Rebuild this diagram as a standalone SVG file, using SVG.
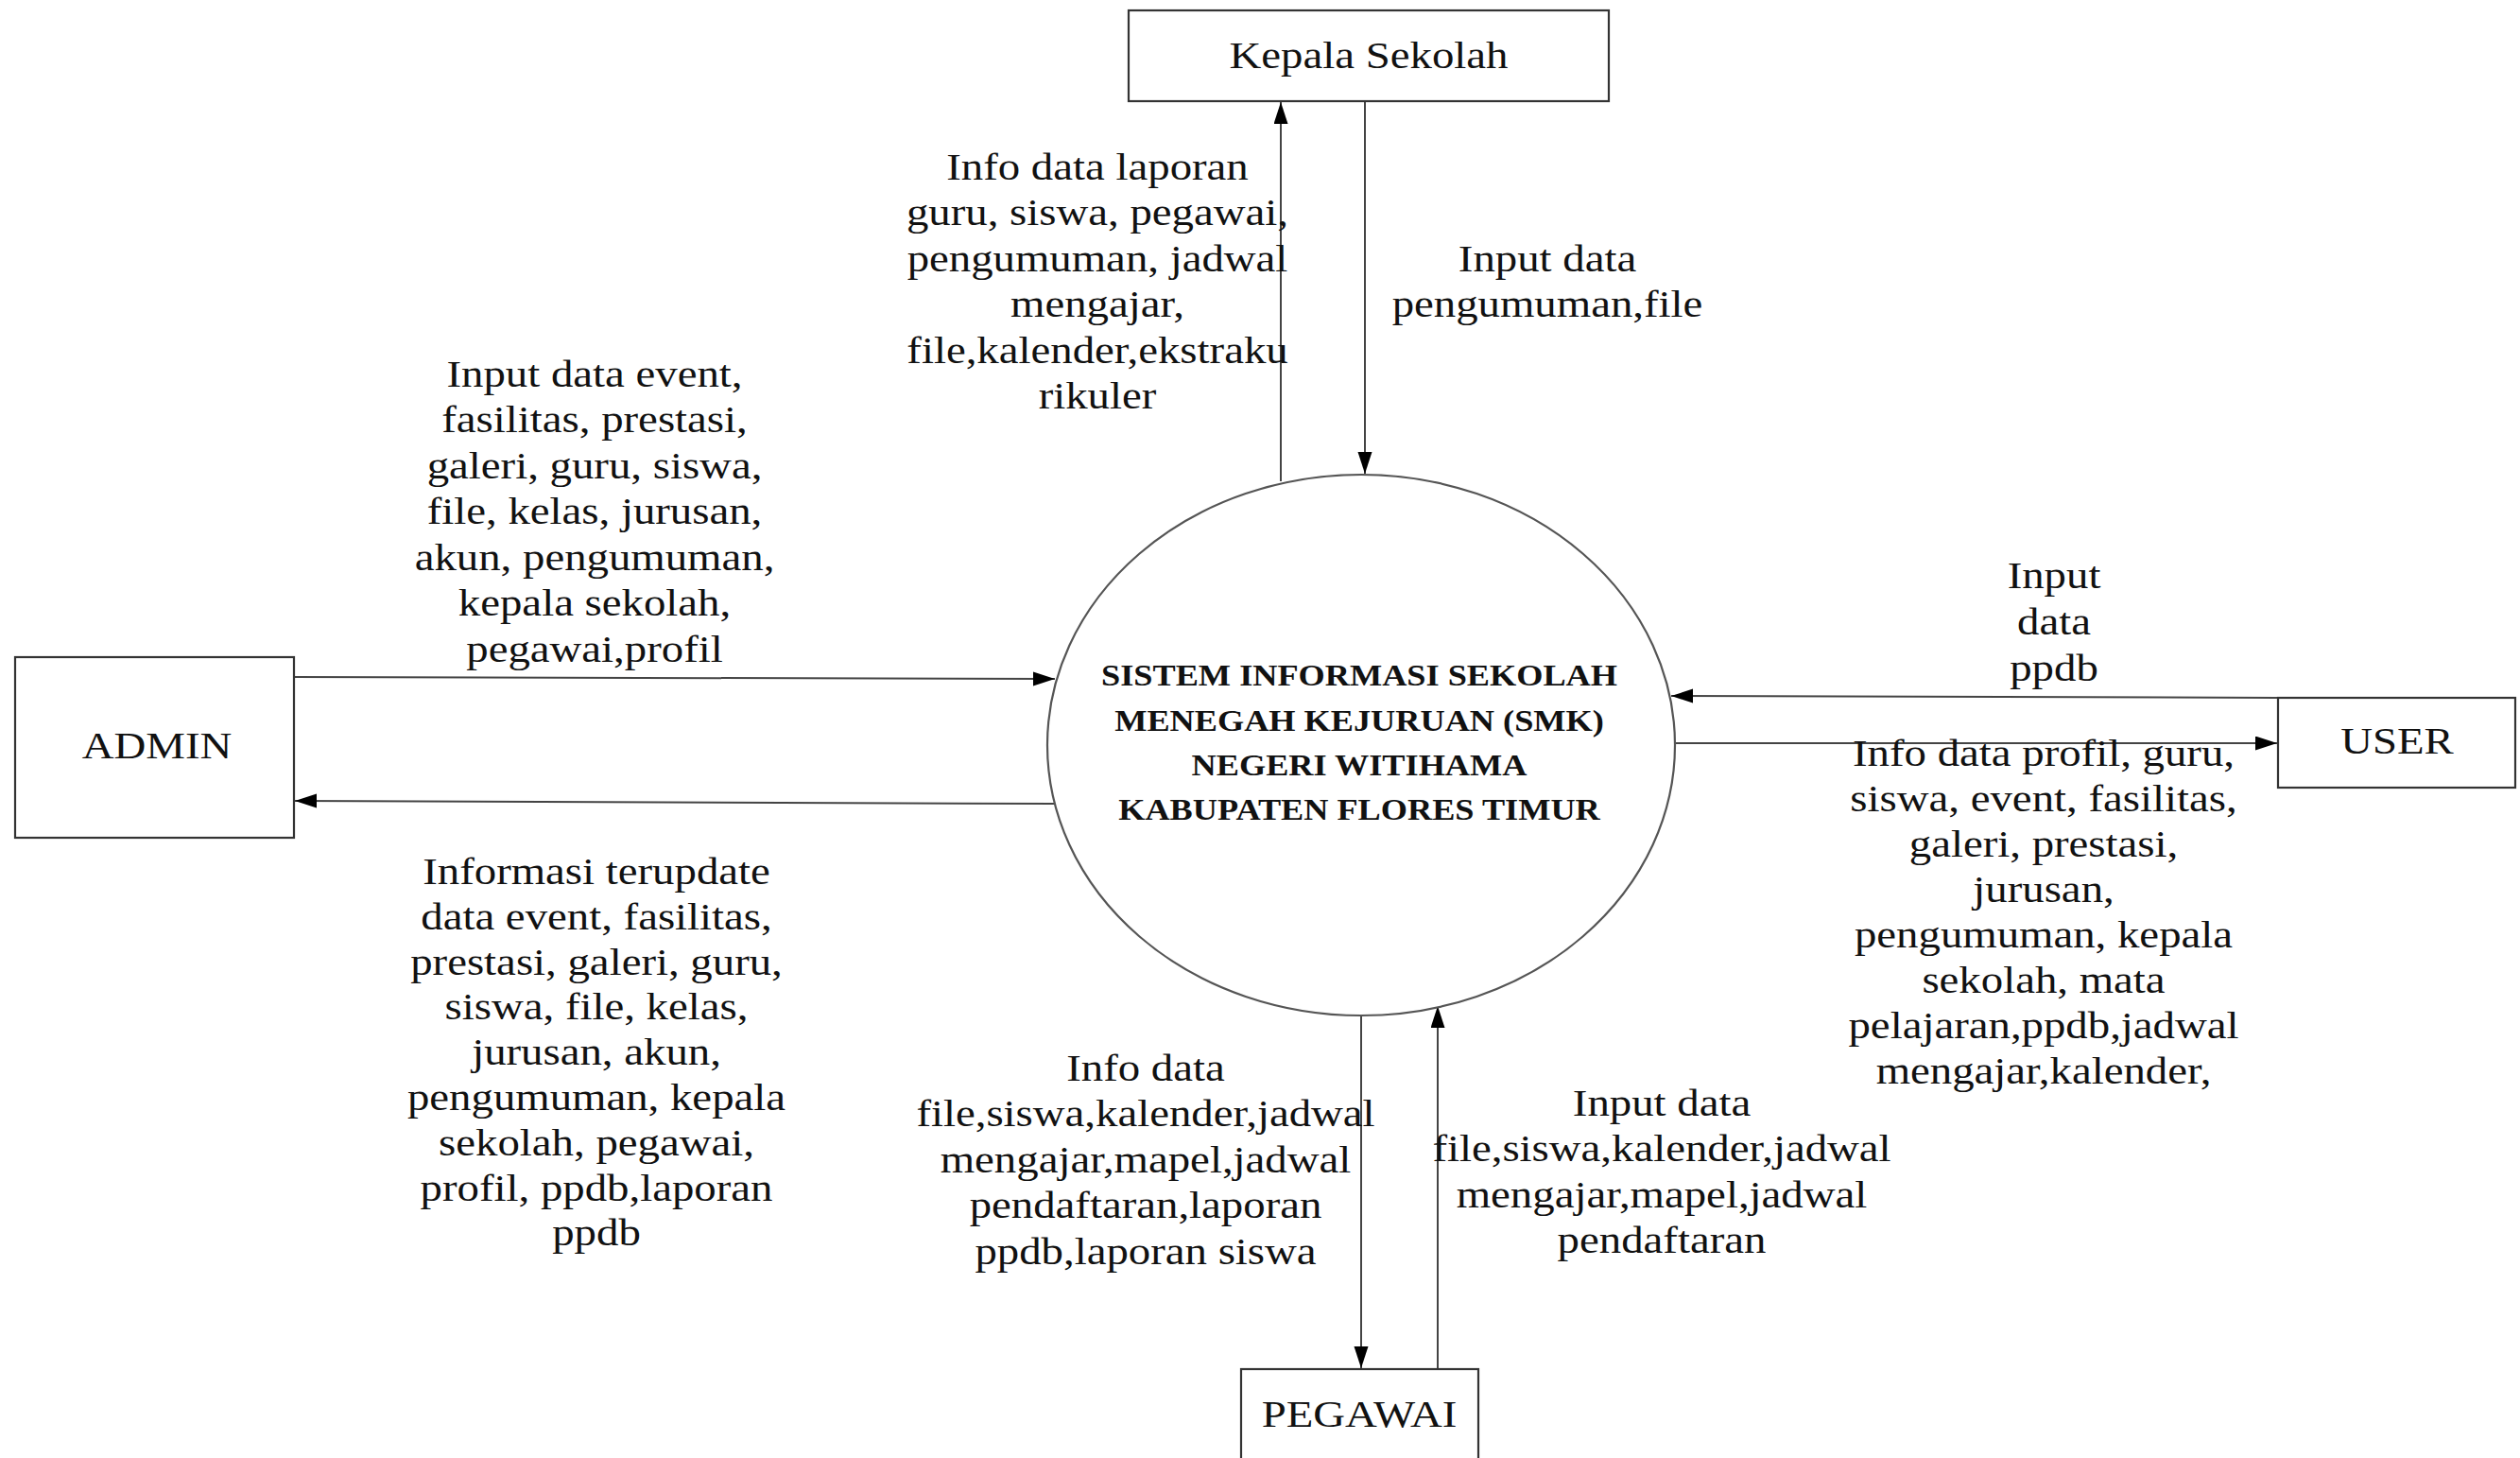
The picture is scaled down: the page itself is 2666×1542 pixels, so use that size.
<svg xmlns="http://www.w3.org/2000/svg" width="2666" height="1542" viewBox="0 0 2666 1542">
<style>
.box{fill:#fff;stroke:#333;stroke-width:2.2}
.proc{fill:#fff;stroke:#555;stroke-width:2.2}
.ln{stroke:#444;stroke-width:2;fill:none}
.t{font-family:"Liberation Serif","Times New Roman",serif;font-size:40px;fill:#111;text-anchor:middle}
.b{font-family:"Liberation Serif","Times New Roman",serif;font-size:31px;font-weight:bold;fill:#111;text-anchor:middle}
</style>
<defs>
<marker id="ah" markerUnits="userSpaceOnUse" markerWidth="24" markerHeight="16" refX="23" refY="7.5" orient="auto">
<path d="M0,0 L23,7.5 L0,15 z" fill="#000"/>
</marker>
</defs>
<rect width="2666" height="1542" fill="#fff"/>

<g id="connectors">
<line class="ln" x1="311" y1="716" x2="1116" y2="718" marker-end="url(#ah)"/>
<line class="ln" x1="1115" y1="850" x2="312" y2="847" marker-end="url(#ah)"/>
<line class="ln" x1="2410" y1="738" x2="1768" y2="736" marker-end="url(#ah)"/>
<line class="ln" x1="1772" y1="786" x2="2409" y2="786" marker-end="url(#ah)"/>
<line class="ln" x1="1355" y1="509" x2="1355" y2="108" marker-end="url(#ah)"/>
<line class="ln" x1="1444" y1="108" x2="1444" y2="501" marker-end="url(#ah)"/>
<line class="ln" x1="1440" y1="1074" x2="1440" y2="1447" marker-end="url(#ah)"/>
<line class="ln" x1="1521" y1="1448" x2="1521" y2="1064" marker-end="url(#ah)"/>
</g>

<g id="labels">
<g transform="translate(629,0) scale(1.17,1)">
<text class="t" x="0" y="409">Input data event,</text>
<text class="t" x="0" y="457.5">fasilitas, prestasi,</text>
<text class="t" x="0" y="506">galeri, guru, siswa,</text>
<text class="t" x="0" y="554.5">file, kelas, jurusan,</text>
<text class="t" x="0" y="603">akun, pengumuman,</text>
<text class="t" x="0" y="651.5">kepala sekolah,</text>
<text class="t" x="0" y="700">pegawai,profil</text>
</g>
<g transform="translate(631,0) scale(1.17,1)">
<text class="t" x="0" y="935">Informasi terupdate</text>
<text class="t" x="0" y="983">data event, fasilitas,</text>
<text class="t" x="0" y="1031">prestasi, galeri, guru,</text>
<text class="t" x="0" y="1078">siswa, file, kelas,</text>
<text class="t" x="0" y="1126">jurusan, akun,</text>
<text class="t" x="0" y="1174">pengumuman, kepala</text>
<text class="t" x="0" y="1222">sekolah, pegawai,</text>
<text class="t" x="0" y="1270">profil, ppdb,laporan</text>
<text class="t" x="0" y="1317">ppdb</text>
</g>
<g transform="translate(1161,0) scale(1.17,1)">
<text class="t" x="0" y="190">Info data laporan</text>
<text class="t" x="0" y="238.5">guru, siswa, pegawai,</text>
<text class="t" x="0" y="287">pengumuman, jadwal</text>
<text class="t" x="0" y="335">mengajar,</text>
<text class="t" x="0" y="384">file,kalender,ekstraku</text>
<text class="t" x="0" y="432">rikuler</text>
</g>
<g transform="translate(1637,0) scale(1.17,1)">
<text class="t" x="0" y="287">Input data</text>
<text class="t" x="0" y="335">pengumuman,file</text>
</g>
<g transform="translate(2173,0) scale(1.17,1)">
<text class="t" x="0" y="622">Input</text>
<text class="t" x="0" y="671">data</text>
<text class="t" x="0" y="720">ppdb</text>
</g>
<g transform="translate(2162,0) scale(1.17,1)">
<text class="t" x="0" y="810">Info data profil, guru,</text>
<text class="t" x="0" y="858">siswa, event, fasilitas,</text>
<text class="t" x="0" y="906">galeri, prestasi,</text>
<text class="t" x="0" y="954">jurusan,</text>
<text class="t" x="0" y="1002">pengumuman, kepala</text>
<text class="t" x="0" y="1050">sekolah, mata</text>
<text class="t" x="0" y="1098">pelajaran,ppdb,jadwal</text>
<text class="t" x="0" y="1146">mengajar,kalender,</text>
</g>
<g transform="translate(1212,0) scale(1.17,1)">
<text class="t" x="0" y="1143">Info data</text>
<text class="t" x="0" y="1191.5">file,siswa,kalender,jadwal</text>
<text class="t" x="0" y="1240">mengajar,mapel,jadwal</text>
<text class="t" x="0" y="1288.5">pendaftaran,laporan</text>
<text class="t" x="0" y="1337">ppdb,laporan siswa</text>
</g>
<g transform="translate(1758,0) scale(1.17,1)">
<text class="t" x="0" y="1180">Input data</text>
<text class="t" x="0" y="1228">file,siswa,kalender,jadwal</text>
<text class="t" x="0" y="1277">mengajar,mapel,jadwal</text>
<text class="t" x="0" y="1325">pendaftaran</text>
</g>
</g>

<g id="kepala-sekolah">
<rect class="box" x="1194" y="11" width="508" height="96"/>
<g transform="translate(1448,0) scale(1.17,1)"><text class="t" x="0" y="72">Kepala Sekolah</text></g>
</g>

<g id="admin">
<rect class="box" x="16" y="695" width="295" height="191"/>
<g transform="translate(166,0) scale(1.17,1)"><text class="t" x="0" y="802">ADMIN</text></g>
</g>

<g id="user">
<rect class="box" x="2410" y="738" width="251" height="95"/>
<g transform="translate(2536,0) scale(1.17,1)"><text class="t" x="0" y="797">USER</text></g>
</g>

<g id="pegawai">
<rect class="box" x="1313" y="1448" width="251" height="110"/>
<g transform="translate(1438,0) scale(1.17,1)"><text class="t" x="0" y="1509">PEGAWAI</text></g>
</g>

<g id="sistem">
<ellipse class="proc" cx="1440" cy="788" rx="332" ry="286"/>
<g transform="translate(1438,0) scale(1.17,1)">
<text class="b" x="0" y="725">SISTEM INFORMASI SEKOLAH</text>
<text class="b" x="0" y="773">MENEGAH KEJURUAN (SMK)</text>
<text class="b" x="0" y="820">NEGERI WITIHAMA</text>
<text class="b" x="0" y="867">KABUPATEN FLORES TIMUR</text>
</g>
</g>
</svg>
